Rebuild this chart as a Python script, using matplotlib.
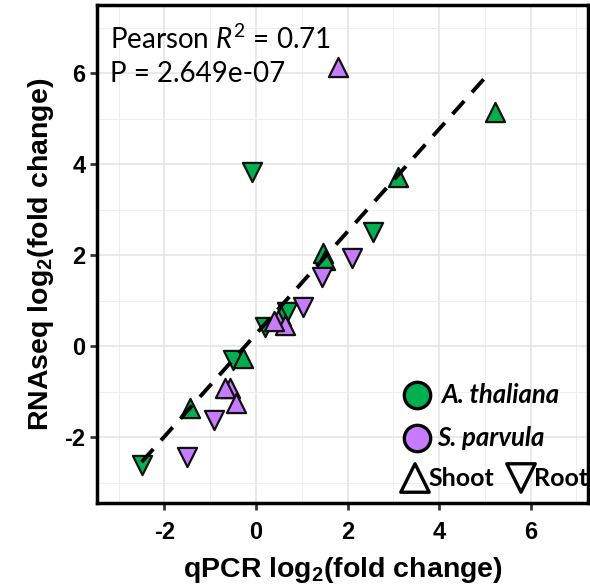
import matplotlib
matplotlib.use("Agg")
import matplotlib.pyplot as plt
import numpy as np

plt.rcParams["axes.unicode_minus"] = False
plt.rcParams["mathtext.fontset"] = "custom"
plt.rcParams["mathtext.rm"] = "Lato"
plt.rcParams["mathtext.it"] = "Lato:italic"
plt.rcParams["mathtext.bf"] = "Liberation Sans:bold"

# ---- data ----
species = ["At", "At", "At", "At", "At", "At", "At", "At", "At", "At", "At", "At", "At",
           "Sp", "Sp", "Sp", "Sp", "Sp", "Sp", "Sp", "Sp", "Sp", "Sp", "Sp", "Sp"]
tissue = ["Shoot", "Root", "Shoot", "Root", "Shoot", "Shoot", "Root", "Shoot", "Root", "Root", "Shoot", "Shoot", "Root",
          "Shoot", "Root", "Root", "Root", "Shoot", "Shoot", "Shoot", "Shoot", "Shoot", "Root", "Root", "Shoot"]
qpcr = [5.22, -0.09, 3.11, 2.56, 1.47, 1.51, 0.67, 0.55, 0.20, -0.50, -0.28, -1.44, -2.50,
        1.80, 1.44, 2.09, 1.03, 0.47, 0.63, -0.57, -0.68, -0.44, -0.91, -1.51, 0.40]
rnaseq = [5.15, 3.83, 3.72, 2.51, 2.04, 1.89, 0.75, 0.66, 0.42, -0.30, -0.27, -1.37, -2.62,
          6.14, 1.52, 1.93, 0.85, 0.57, 0.46, -0.93, -0.93, -1.26, -1.63, -2.43, 0.55]
fit_x = [-2.5, 5.05]
fit_y = [-2.55, 5.95]
x_ticks = [-2, 0, 2, 4, 6]
y_ticks = [-2, 0, 2, 4, 6]
colors = {"At": "#00B050", "Sp": "#C77CFF"}
markers = {"Shoot": "^", "Root": "v"}

fig = plt.figure(figsize=(5.9, 5.86), dpi=100)
ax = fig.add_axes([0.164, 0.1416, 0.833, 0.85])
ax.set_xlim(-3.48, 7.26)
ax.set_ylim(-3.45, 7.5)

ax.set_xticks(x_ticks)
ax.set_yticks(y_ticks)
ax.set_xticks([-3, -1, 1, 3, 5, 7], minor=True)
ax.set_yticks([-3, -1, 1, 3, 5, 7], minor=True)
ax.grid(True, which="major", color="#E3E3E3", lw=1.1, zorder=0)
ax.grid(True, which="minor", color="#EEEEEE", lw=0.7, zorder=0)
ax.tick_params(which="minor", length=0)
ax.tick_params(which="major", length=5, width=2, color="#333333")
ax.tick_params(axis="x", pad=8)
ax.tick_params(axis="y", pad=3)
for lab in ax.get_xticklabels() + ax.get_yticklabels():
    lab.set_fontfamily("Liberation Sans")
    lab.set_fontweight("bold")
    lab.set_fontsize(17)
for s in ax.spines.values():
    s.set_linewidth(2.5)
    s.set_color("black")
ax.set_axisbelow(True)

for xv, yv, sp, ts in zip(qpcr, rnaseq, species, tissue):
    ax.scatter(xv, yv, marker=markers[ts], s=190, c=colors[sp],
               edgecolors="#111111", linewidths=1.6, zorder=3)

ax.plot(fit_x, fit_y, ls=(0, (4.5, 3)), color="black", lw=2.8, zorder=4)

ax.set_xlabel(r"qPCR log$_{\mathbf{2}}$(fold change)", fontsize=20.5, fontweight="bold",
              family="Liberation Sans", labelpad=8)
ax.set_ylabel(r"RNAseq log$_{\mathbf{2}}$(fold change)", fontsize=20.5, fontweight="bold",
              family="Liberation Sans", labelpad=6)

ax.text(0.026, 0.961, r"Pearson $R^{2}$ = 0.71", transform=ax.transAxes, fontsize=20,
        family="Lato", va="top", ha="left")
ax.text(0.026, 0.888, "P = 2.649e-07", transform=ax.transAxes, fontsize=20,
        family="Lato", va="top", ha="left")

# custom legend (positions in figure pixels)
def px2ax(px, py):
    return ax.transData.inverted().transform(fig.transFigure.transform((px / 590, 1 - py / 586)))

lx, ly = px2ax(417, 395)
ax.scatter([lx], [ly], s=360, c=colors["At"], edgecolors="black", linewidths=2.4, zorder=5)
tx, ty = px2ax(441, 395)
ax.text(tx, ty, "A. thaliana", fontsize=18.5, fontweight="bold", style="italic", family="Lato",
        va="center", ha="left", zorder=5)
lx, ly = px2ax(417, 438)
ax.scatter([lx], [ly], s=360, c=colors["Sp"], edgecolors="black", linewidths=2.4, zorder=5)
tx, ty = px2ax(437, 438)
ax.text(tx, ty, "S. parvula", fontsize=18.5, fontweight="bold", style="italic", family="Lato",
        va="center", ha="left", zorder=5)
lx, ly = px2ax(415, 478)
ax.scatter([lx], [ly], marker="^", s=420, facecolors="none", edgecolors="black", linewidths=2.4, zorder=5)
tx, ty = px2ax(428, 479)
ax.text(tx, ty, "Shoot", fontsize=18, fontweight="bold", family="Lato", va="center", ha="left", zorder=5)
lx, ly = px2ax(521, 478)
ax.scatter([lx], [ly], marker="v", s=420, facecolors="none", edgecolors="black", linewidths=2.4, zorder=5)
tx, ty = px2ax(534, 479)
ax.text(tx, ty, "Root", fontsize=18, fontweight="bold", family="Lato", va="center", ha="left", zorder=5)

fig.savefig("out.png", dpi=100)
